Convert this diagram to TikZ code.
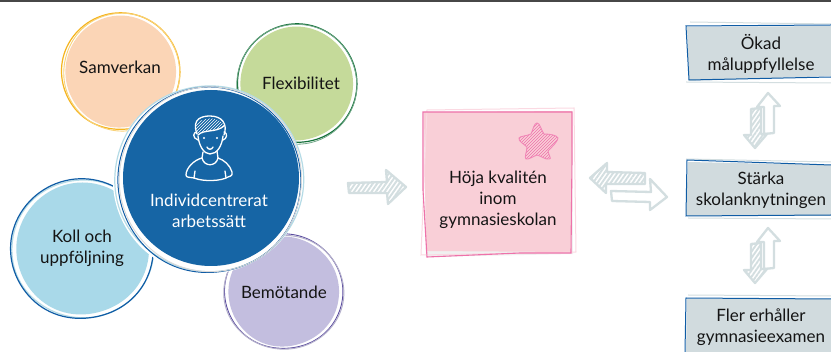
\documentclass[tikz,border=0pt]{standalone}
\usepackage{fontspec}
\setmainfont{Lato}
\usetikzlibrary{patterns,patterns.meta}
\definecolor{peach}{HTML}{FBD5B6}
\definecolor{peachline}{HTML}{F5B41E}
\definecolor{leaf}{HTML}{C5DA9A}
\definecolor{leafline}{HTML}{14703A}
\definecolor{core}{HTML}{1665A5}
\definecolor{sky}{HTML}{A9D9E9}
\definecolor{skyline}{HTML}{0F5CA5}
\definecolor{skylight}{HTML}{B5DBE6}
\definecolor{lilac}{HTML}{C3BEDF}
\definecolor{lilacline}{HTML}{5A4B9F}
\definecolor{rose}{HTML}{F9CFD7}
\definecolor{roseline}{HTML}{EE72AA}
\definecolor{roselight}{HTML}{FBD9E2}
\definecolor{slate}{HTML}{D1DBDE}
\definecolor{arrowgrey}{HTML}{D3DEE0}
\tikzset{
  x=1pt,y=-1pt,
  label text/.style={font=\fontsize{17}{21}\selectfont,align=center,text=black!92,inner sep=0pt},
  hollow arrow/.style={draw=arrowgrey,line width=2.3pt,fill=white,line join=round},
  solid arrow/.style={draw=arrowgrey,line width=2.3pt,line join=round,
     pattern={Lines[angle=55,distance=3.6pt,line width=1.9pt]},pattern color=arrowgrey},
  icon/.style={draw=white,line width=1.3pt,line cap=round,line join=round},
}
% blob cx cy rx ry : a slightly wobbly closed outline
\newcommand{\blob}[6][]{%
  \draw[#1] plot[smooth cycle,tension=0.75] coordinates {
    ({#2+#4*cos(0+#6)},{#3+#5*1.012*sin(0+#6)})
    ({#2+#4*1.02*cos(60+#6)},{#3+#5*0.98*sin(60+#6)})
    ({#2+#4*0.985*cos(120+#6)},{#3+#5*1.02*sin(120+#6)})
    ({#2+#4*1.012*cos(180+#6)},{#3+#5*0.985*sin(180+#6)})
    ({#2+#4*0.98*cos(240+#6)},{#3+#5*1.012*sin(240+#6)})
    ({#2+#4*1.012*cos(300+#6)},{#3+#5*0.99*sin(300+#6)})
  };}
\begin{document}
\begin{tikzpicture}
\useasboundingbox (0,0) rectangle (831,352);
\fill[white] (0,0) rectangle (831,352);
\fill[black!72] (0,0) rectangle (831,2);

% Samverkan
\blob[fill=peach,draw=none]{121}{72}{55}{56}{10}
\blob[draw=peachline,line width=1.2pt]{120.5}{72}{59}{58.5}{30}
\blob[draw=peachline!60,line width=.9pt]{121.5}{71.5}{58}{59}{80}
% Flexibilitet
\blob[fill=leaf,draw=none]{297}{84}{56}{57}{10}
\blob[draw=leafline,line width=1.2pt]{297}{84}{59.5}{59.5}{30}
\blob[draw=leafline!60,line width=.8pt]{297}{83.5}{60}{60}{90}
% Bemotande
\blob[fill=lilac,draw=none]{284}{292}{55}{55}{10}
\blob[draw=lilacline,line width=.9pt]{283.5}{292}{59}{57.5}{30}
\blob[draw=lilac!80!gray,line width=1pt]{284}{291.5}{60}{57}{90}
% Koll
\blob[fill=sky,draw=none]{83}{249}{66}{66}{10}
\blob[draw=skylight,line width=1.2pt]{82}{248.5}{71}{69}{70}
\blob[draw=skyline,line width=1.2pt]{82}{249.5}{71}{70}{20}
% centre
\blob[fill=white,draw=none]{209}{180}{95}{94}{0}
\blob[draw=skylight,line width=1.2pt]{208.5}{178}{94.5}{93}{75}
\blob[draw=skyline,line width=1pt]{209.5}{181}{91}{93}{20}
\blob[draw=black!15,line width=.9pt]{212}{180}{91}{92}{130}
\fill[core] (211,178) circle (88);

% labels
\node[label text] (sam) at (120,67) {Samverkan};
\node[label text] (flex) at (301,83) {Flexibilitet};
\node[label text] (koll) at (82,248) {Koll och\\uppföljning};
\node[label text] (bem) at (284,292) {Bemötande};
\node[label text,text=white] (ind) at (209,210.5) {Individcentrerat\\arbetssätt};

% person icon
\fill[pattern=north east lines,pattern color=white]
  (195,126) .. controls (199,117) and (220,115) .. (224,126) .. controls (216,133) and (204,129) .. (198,135) .. controls (197,132) and (196,130) .. (195,126) -- cycle;
\draw[icon] (197,134) .. controls (191,118) and (203,116) .. (210,116) .. controls (222,116) and (228,124) .. (224,135);
\draw[icon] (198,135) .. controls (204,129) and (216,133) .. (224,126);
\draw[icon] (197,132) .. controls (193,132) and (192,138) .. (198,140);
\draw[icon] (224,132) .. controls (228,133) and (227,139) .. (223,140);
\draw[icon] (198,136) .. controls (199,146) and (204,154) .. (210,154) .. controls (217,154) and (222,146) .. (223,136);
\draw[icon] (207,147) .. controls (208,150) and (212,150) .. (213,147);
\fill[white] (204,138) circle (1.1) (217,138) circle (1.1);
\draw[icon] (203,152) -- (202,158) .. controls (194,160) and (186,168) .. (186,175) .. controls (186,178) and (190,177) .. (194,178) .. controls (204,182) and (222,181) .. (228,177) .. controls (232,176) and (233,174) .. (232,172) .. controls (230,165) and (224,160) .. (218,158) -- (217,151);
\draw[icon] (202,158) .. controls (204,167) and (216,167) .. (218,158);
\draw[icon] (195,171) -- (194,178) (225,171) -- (226,178);

% arrow to the square
\path[solid arrow] (348,183) -- (387,182) -- (386,170) -- (406,187) -- (388,204) -- (387,193) -- (349,193) -- cycle;

% square
\path[fill=black!6] (424,120) -- (572,120) -- (573,254) -- (426,257) -- cycle;
\fill[rose] (424,112) -- (572,111) -- (571,252) -- (426,251) -- cycle;
\draw[roselight,line width=1pt] (427,110) -- (574,108) -- (576,252) -- (421,255) -- cycle;
\draw[roseline,line width=1.1pt] (423,112) -- (572,112) -- (572,160) -- (571,253) -- (520,253) -- (427,257) -- (423,190) -- cycle;
\node[label text] (goal) at (498,200) {Höja kvalitén\\inom\\gymnasieskolan};

% star
\path[draw=roseline!85,line width=.9pt,pattern=north east lines,pattern color=roseline]
  (537,123) .. controls (540,123) and (541,130) .. (544,134)
  .. controls (549,134) and (557,135) .. (558,138)
  .. controls (558,141) and (552,147) .. (548,151)
  .. controls (549,156) and (552,159) .. (549,159)
  .. controls (546,160) and (541,156) .. (537,155)
  .. controls (534,156) and (528,160) .. (526,159)
  .. controls (524,158) and (527,151) .. (527,147)
  .. controls (524,144) and (518,141) .. (519,138)
  .. controls (520,136) and (527,136) .. (531,134)
  .. controls (533,130) and (534,123) .. (537,123) -- cycle;

% double arrow
\path[hollow arrow] (611,191) -- (651,192) -- (650,179) -- (667,197) -- (650,210) -- (650,202) -- (612,201) -- cycle;
\path[solid arrow] (645,173) -- (607,172) -- (607,163) -- (590,178) -- (606,193) -- (606,184) -- (645,184) -- cycle;

% right boxes
\fill[slate] (687,27) -- (831,26) -- (831,76) -- (689,81) -- cycle;
\draw[arrowgrey,line width=1pt] (690,22) -- (831,24);
\draw[arrowgrey,line width=1pt] (686,82) -- (831,83);
\draw[skyline,line width=1pt] (831,25) -- (686,26) -- (689,80) -- (831,77);
\node[label text] (okad) at (761,53.5) {Ökad\\måluppfyllelse};

\fill[slate] (688,162) -- (831,165) -- (831,216) -- (686,216) -- cycle;
\draw[arrowgrey,line width=1pt] (686,159) -- (831,162);
\draw[arrowgrey,line width=1pt] (688,218) -- (831,219);
\draw[skyline,line width=1pt] (831,165) -- (687,160) -- (686,216) -- (831,215);
\node[label text] (starka) at (761,190) {Stärka\\skolanknytningen};

\fill[slate] (687,299) -- (831,299) -- (831,352) -- (686,352) -- cycle;
\draw[arrowgrey,line width=1pt] (688,295) -- (831,296);
\draw[skyline,line width=1pt] (831,299) -- (686,298) -- (685,352);
\node[label text] (fler) at (761,327) {Fler erhåller\\gymnasieexamen};

% vertical arrows
\foreach \dy in {0,135}{
\begin{scope}[yshift=-\dy pt]
\path[hollow arrow] (764,134) -- (764,107) -- (757,107) -- (768,93) -- (780,106) -- (774,106) -- (774,133) -- cycle;
\path[solid arrow] (751,109) -- (761,108) -- (761,134) -- (767,134) -- (755,148) -- (744,135) -- (751,135) -- cycle;
\end{scope}}
\end{tikzpicture}
\end{document}
